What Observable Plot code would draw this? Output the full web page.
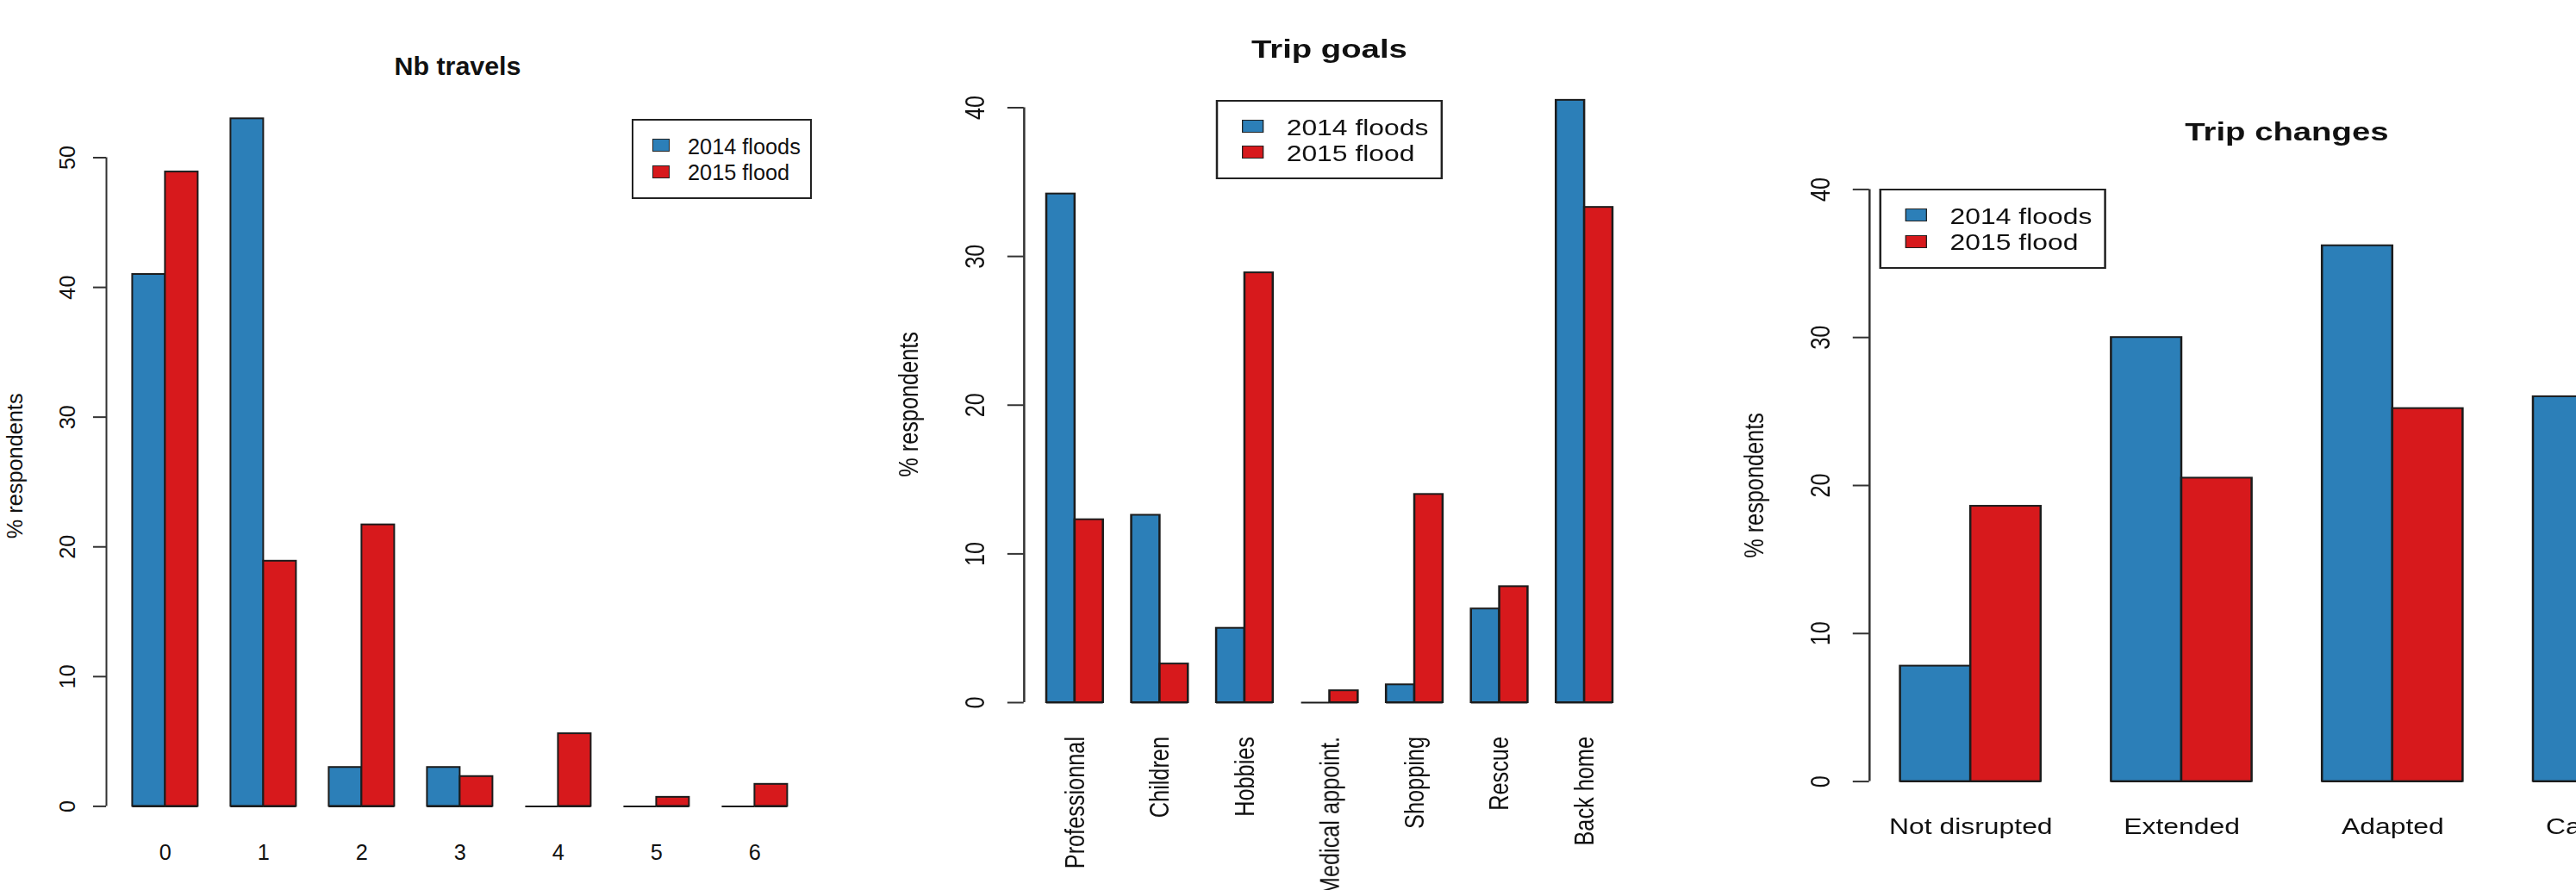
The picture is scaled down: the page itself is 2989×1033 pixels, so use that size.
<!DOCTYPE html>
<html><head><meta charset="utf-8">
<script src="https://cdn.jsdelivr.net/npm/d3@7"></script>
<script src="https://cdn.jsdelivr.net/npm/@observablehq/plot@0.6"></script>
<style>
html,body{margin:0;padding:0;background:#fff;overflow:hidden}
#page{position:relative;width:2989px;height:1033px;overflow:hidden;background:#fff;font-family:"Liberation Sans",Arial,sans-serif;color:#111}
.panel{position:absolute;top:0;height:1033px;transform-origin:0 0}
.panel svg{position:absolute;left:0;top:0}
.title{position:absolute;width:1000px;text-align:center;font-weight:bold;font-size:30.4px;line-height:1;white-space:nowrap}
.legend{position:absolute;border:2px solid #222;box-sizing:border-box;background:#fff}
.sw{position:absolute;box-sizing:border-box;border:1.5px solid #222}
.lt{position:absolute;font-size:25.3px;line-height:1;white-space:nowrap}
</style></head><body><div id="page"></div>
<script>
// ---- data ----
const seriesNames = ["2014 floods", "2015 flood"];
const seriesColors = ["#2C7FB8", "#D7191C"];

const travelCats = ["0", "1", "2", "3", "4", "5", "6"];
const travel2014 = [41, 53, 3, 3, 0, 0, 0];
const travel2015 = [48.9, 18.9, 21.7, 2.3, 5.6, 0.7, 1.7];
const travelTicks = [0, 10, 20, 30, 40, 50];

const goalCats = ["Professionnal", "Children", "Hobbies", "Medical appoint.", "Shopping", "Rescue", "Back home"];
const goal2014 = [34.2, 12.6, 5.0, 0, 1.2, 6.3, 40.5];
const goal2015 = [12.3, 2.6, 28.9, 0.8, 14.0, 7.8, 33.3];
const goalTicks = [0, 10, 20, 30, 40];

const changeCats = ["Not disrupted", "Extended", "Adapted", "Canceled"];
const change2014 = [7.8, 30.0, 36.2, 26.0];
const change2015 = [18.6, 20.5, 25.2, 35.7];
const changeTicks = [0, 10, 20, 30, 40];
const changeYlim = [0, 40];

const yLabel = "% respondents";

// ---- helpers ----
function rowsFor(cats, a, b) {
  const rows = [];
  cats.forEach((c, i) => {
    [a[i], b[i]].forEach((v, j) => rows.push({cat: c, series: seriesNames[j], value: v, x1: 3 * i + 1 + j, x2: 3 * i + 2 + j}));
  });
  return rows;
}
function xlimFor(n) { const lo = 1, hi = 3 * n, pad = 0.04 * (hi - lo); return [lo - pad, hi + pad]; }

function makePanel(p) {
  const page = document.getElementById("page");
  const div = document.createElement("div");
  div.className = "panel";
  div.style.left = p.left + "px";
  div.style.width = p.w + "px";
  div.style.transform = `scaleX(${p.sx})`;
  page.appendChild(div);

  const rows = rowsFor(p.cats, p.a, p.b);
  const [xlo, xhi] = xlimFor(p.cats.length);
  const maxV = d3.max(rows, d => d.value);
  const ylim = p.ylim || [-0.01 * maxV, maxV];
  const ymid = (ylim[0] + ylim[1]) / 2;
  const yTop = p.ticks[p.ticks.length - 1];
  const catRows = p.cats.map((c, i) => ({cat: c, center: 3 * i + 2}));

  const labelMark = p.rotateX
    ? Plot.text(catRows, {x: "center", y: 0, text: "cat", rotate: -90, textAnchor: "end", lineAnchor: "middle", dy: p.labelDy, fontSize: 25.3, fill: "#111"})
    : Plot.text(catRows, {x: "center", y: 0, text: "cat", lineAnchor: "top", dy: p.labelDy, fontSize: 25.3, fill: "#111"});

  const chart = Plot.plot({
    width: p.w, height: 1033,
    marginLeft: p.axisPx, marginRight: p.w - p.rightPx,
    marginTop: p.topPx, marginBottom: 1033 - p.zeroPx,
    x: {domain: [xlo, xhi], axis: null},
    y: {domain: [0, yTop]},
    color: {domain: seriesNames, range: seriesColors},
    style: {fontFamily: '"Liberation Sans", Arial, sans-serif', fontSize: "25.3px", color: "#111", background: "transparent", overflow: "visible"},
    marks: [
      Plot.rectY(rows, {x1: "x1", x2: "x2", y1: 0, y2: "value", fill: "series", stroke: "#1c1c1c", strokeWidth: 2}),
      Plot.ruleY(rows, {x1: "x1", x2: "x2", y: 0, stroke: "#1c1c1c", strokeWidth: 2}),
      Plot.ruleX([xlo], {y1: 0, y2: yTop, stroke: "#333", strokeWidth: 2}),
      Plot.axisY(p.ticks, {tickSize: 15, tickPadding: 30, tickRotate: -90, textAnchor: "middle", lineAnchor: "middle", fontSize: 25.3, stroke: "#333", strokeWidth: 2, fill: "#111", label: null}),
      labelMark,
      Plot.text([yLabel], {x: xlo, y: ymid, text: d => d, rotate: -90, dx: -106, lineAnchor: "middle", fontSize: 25.3, fill: "#111"})
    ]
  });
  div.appendChild(chart);

  const t = document.createElement("div");
  t.className = "title";
  t.textContent = p.title;
  t.style.left = (p.titleX - 500) + "px";
  t.style.top = (p.titleBase - 25.7) + "px";
  div.appendChild(t);

  const lg = document.createElement("div");
  lg.className = "legend";
  lg.style.left = p.legX + "px";
  lg.style.top = p.legY + "px";
  lg.style.width = "209px";
  lg.style.height = "92.5px";
  seriesNames.forEach((s, j) => {
    const sw = document.createElement("div");
    sw.className = "sw";
    sw.style.left = "22px";
    sw.style.top = (21.3 + j * 30.3) + "px";
    sw.style.width = "19.5px";
    sw.style.height = "15px";
    sw.style.background = seriesColors[j];
    lg.appendChild(sw);
    const tx = document.createElement("div");
    tx.className = "lt";
    tx.style.left = "63px";
    tx.style.top = (39.3 - 21.4 + j * 30.3) + "px";
    tx.textContent = s;
    lg.appendChild(tx);
  });
  div.appendChild(lg);
}

makePanel({left: 0, sx: 1, w: 1000, axisPx: 123, rightPx: 943.8, topPx: 182.5, zeroPx: 935.4,
  cats: travelCats, a: travel2014, b: travel2015, ticks: travelTicks, title: "Nb travels",
  titleX: 531, titleBase: 87, legX: 733, legY: 138, labelDy: 44.6, rotateX: false});

makePanel({left: 1000, sx: 1.26, w: 785, axisPx: 149, rightPx: 712.1, topPx: 124.5, zeroPx: 815,
  cats: goalCats, a: goal2014, b: goal2015, ticks: goalTicks, title: "Trip goals",
  titleX: 430.5, titleBase: 66.7, legX: 326, legY: 115.7, labelDy: 39.5, rotateX: true});

makePanel({left: 1989, sx: 1.26, w: 920, axisPx: 142.6, rightPx: 912, topPx: 219.4, zeroPx: 906.6,
  cats: changeCats, a: change2014, b: change2015, ticks: changeTicks, ylim: changeYlim, title: "Trip changes",
  titleX: 527.3, titleBase: 162.7, legX: 152.1, legY: 219, labelDy: 43.4, rotateX: false});
</script></body></html>
